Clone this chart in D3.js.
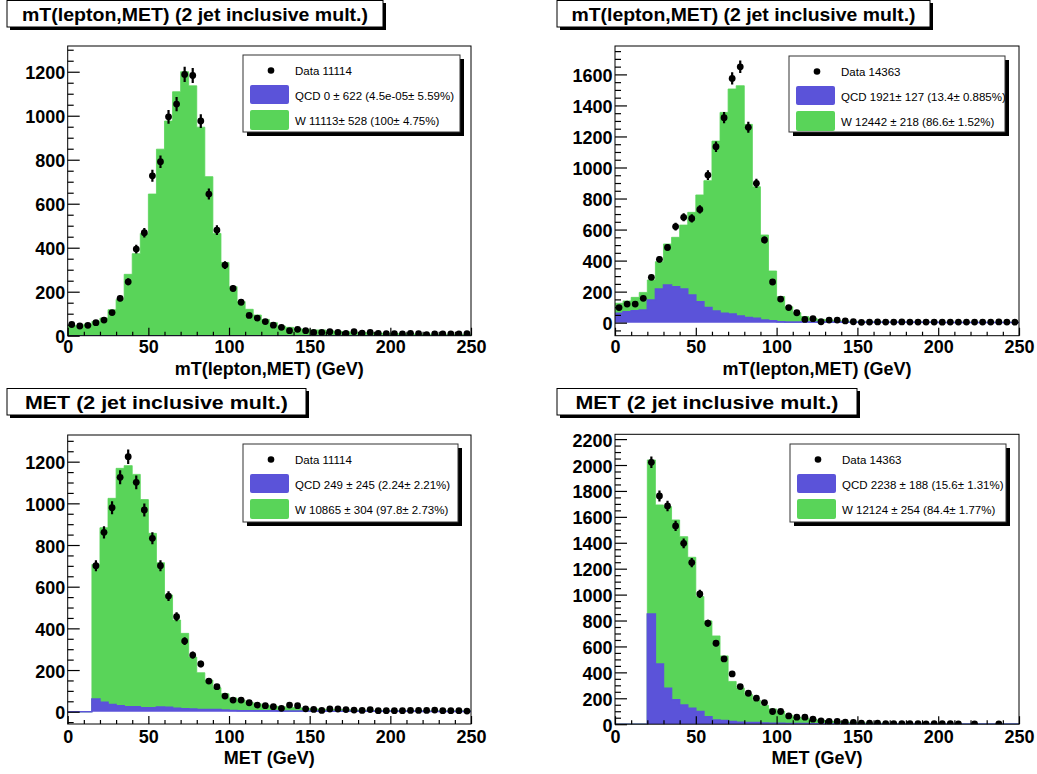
<!DOCTYPE html>
<html><head><meta charset="utf-8">
<script src="https://cdn.jsdelivr.net/npm/d3@7"></script>
<style>
body{margin:0;background:#fff}
svg{display:block}
text{font-family:"Liberation Sans",Arial,Helvetica,sans-serif}
</style>
</head><body>
<svg id="c" width="1037" height="774"></svg>
<script>
// ---------------- DATA ----------------
const binLow = [0,5,10,15,20,25,30,35,40,45,50,55,60,65,70,75,80,85,90,95,
  100,105,110,115,120,125,130,135,140,145,150,155,160,165,170,175,180,185,190,195,
  200,205,210,215,220,225,230,235,240,245];
const binWidth = 5;
const xTickValues = [0,50,100,150,200,250];

// mT(lepton,MET), sample 1 (top-left)
const mt1Data = [51,44,47,59,71,105,170,245,394,468,727,791,995,1053,1188,1183,976,644,480,321,
  215,152,92,80,64,48,38,23,29,23,15,15,18,15,11,18,12,15,11,9,9,8,11,9,5,8,8,8,8,9];
const mt1QCD = [0,0,0,0,0,0,0,0,0,0,0,0,0,0,0,0,0,0,0,0,0,0,0,0,0,0,0,0,0,0,
  0,0,0,0,0,0,0,0,0,0,0,0,0,0,0,0,0,0,0,0];
const mt1W = [46,46,53,65,80,118,165,279,373,465,644,848,976,1109,1200,1136,948,723,465,333,
  223,155,120,94,74,59,44,38,32,29,26,26,22,20,18,16,15,13,12,11,10,9,8,8,7,7,6,6,6,5];

// mT(lepton,MET), sample 2 (top-right)
const mt2Data = [97,120,120,157,292,408,485,619,679,672,730,951,1134,1321,1574,1649,1259,898,533,262,
  152,97,64,21,26,6,17,17,11,6,2,4,5,4,4,5,4,4,4,4,3,4,4,4,4,4,4,5,4,3];
const mt2QCD = [60,71,77,82,146,217,243,232,217,178,135,97,75,60,56,43,34,28,17,13,
  6,4,4,6,5,5,5,4,3,3,2,2,2,2,2,2,2,2,2,2,1,1,1,1,1,1,1,1,1,1];
const mt2W = [65,69,86,113,129,176,264,318,412,533,688,818,1095,1295,1450,1484,1244,848,548,320,
  162,99,60,33,23,16,12,9,8,6,5,4,4,3,3,3,2,2,2,2,2,2,2,2,2,2,2,2,2,2];

// MET, sample 1 (bottom-left)
const met1Data = [null,null,null,701,861,979,1125,1224,1101,968,832,701,555,456,339,272,229,147,120,75,
  56,56,43,32,29,24,16,32,29,14,11,6,13,13,10,8,6,10,5,5,5,5,6,6,6,8,5,5,5,3];
const met1QCD = [0,0,0,61,45,35,29,24,24,19,19,22,21,16,14,13,11,11,10,8,
  6,5,5,4,4,4,3,3,3,3,3,3,2,2,2,2,2,2,2,2,2,2,2,2,1,1,1,1,1,1];
const met1W = [0,0,0,646,838,989,1139,1157,1115,999,837,693,539,424,362,249,176,141,105,78,
  60,51,40,34,28,23,21,18,16,13,11,9,9,8,7,6,5,5,4,4,3,3,3,3,3,3,3,3,3,3];

// MET, sample 2 (bottom-right)
const met2Data = [null,null,null,null,2021,1761,1684,1530,1396,1247,1005,779,625,504,388,290,239,201,167,98,
  98,64,54,54,39,26,21,21,15,13,8,8,8,5,5,5,5,5,3,5,5,5,3,null,3,null,null,3,null,null];
const met2QCD = [0,0,0,0,851,465,278,188,149,123,98,57,33,28,21,15,13,13,10,8,
  7,6,5,5,4,4,3,3,3,3,2,2,2,2,2,2,2,1,1,1,1,1,1,1,1,1,1,1,1,1];
const met2W = [0,0,0,0,1188,1227,1401,1388,1298,1165,887,740,648,499,309,265,217,172,135,110,
  93,64,50,40,34,26,21,17,13,10,9,7,6,5,4,3,3,3,3,3,2,2,2,2,2,2,2,2,2,2];

const titleLabels = ["mT(lepton,MET) (2 jet inclusive mult.)", "MET (2 jet inclusive mult.)"];
const xAxisLabels = ["mT(lepton,MET) (GeV)", "MET (GeV)"];
const legend1 = ["Data 11114", "QCD 0 \u00b1 622 (4.5e-05\u00b1 5.59%)", "W 11113\u00b1 528 (100\u00b1 4.75%)"];
const legend2 = ["Data 14363", "QCD 1921\u00b1 127 (13.4\u00b1 0.885%)", "W 12442 \u00b1 218 (86.6\u00b1 1.52%)"];
const legend3 = ["Data 11114", "QCD 249 \u00b1 245 (2.24\u00b1 2.21%)", "W 10865 \u00b1 304 (97.8\u00b1 2.73%)"];
const legend4 = ["Data 14363", "QCD 2238 \u00b1 188 (15.6\u00b1 1.31%)", "W 12124 \u00b1 254 (84.4\u00b1 1.77%)"];

// ---------------- LAYOUT ----------------
const COL_W = "#59d459", COL_Q = "#5b53d9";
const panels = [
  {data:mt1Data, qcd:mt1QCD, w:mt1W, title:titleLabels[0], xlab:xAxisLabels[0], legend:legend1,
   fx0:67.7, fx1:471, fy0:46, fy1:335.7, ymin:0, ymax:1317,
   tb:[7,0,383,27], tw:346, lg:[243,55,460,132], xlabY:353, xtitY:375},
  {data:mt2Data, qcd:mt2QCD, w:mt2W, title:titleLabels[0], xlab:xAxisLabels[0], legend:legend2,
   fx0:615, fx1:1019, fy0:46, fy1:335.7, ymin:-84, ymax:1783,
   tb:[557,0,930,27], tw:344, lg:[789,56,1005,132], xlabY:353, xtitY:375},
  {data:met1Data, qcd:met1QCD, w:met1W, title:titleLabels[1], xlab:xAxisLabels[1], legend:legend3,
   fx0:67.7, fx1:471, fy0:435, fy1:724, ymin:-59, ymax:1328,
   tb:[7,388,306,415], tw:263, lg:[243,444,458,522], xlabY:743, xtitY:764},
  {data:met2Data, qcd:met2QCD, w:met2W, title:titleLabels[1], xlab:xAxisLabels[1], legend:legend4,
   fx0:615, fx1:1019, fy0:434.3, fy1:724.2, ymin:0, ymax:2237,
   tb:[557,388,857,415], tw:263, lg:[790,444,1006,522], xlabY:743, xtitY:764}
];

const svg = d3.select("#c");

panels.forEach((p, pi) => {
  const g = svg.append("g");
  const x = d3.scaleLinear().domain([0,250]).range([p.fx0, p.fx1]);
  const y = d3.scaleLinear().domain([p.ymin, p.ymax]).range([p.fy1, p.fy0]);

  const clipId = "clip" + pi;
  svg.append("clipPath").attr("id", clipId).append("rect")
    .attr("x", p.fx0).attr("y", p.fy0).attr("width", p.fx1 - p.fx0).attr("height", p.fy1 - p.fy0);

  g.append("rect").attr("x", p.fx0).attr("y", p.fy0).attr("width", p.fx1 - p.fx0)
    .attr("height", p.fy1 - p.fy0).attr("fill", "#fff");

  const plot = g.append("g").attr("clip-path", `url(#${clipId})`);

  // stacked histograms
  const rows = binLow.map((b, i) => ({x: b, qcd: p.qcd[i], w: p.w[i]}));
  const stack = d3.stack().keys(["qcd", "w"])(rows);
  const toStep = s => {
    const pts = s.map((d, i) => ({x: binLow[i], lo: d[0], hi: d[1]}));
    const last = pts[pts.length - 1];
    pts.push({x: last.x + binWidth, lo: last.lo, hi: last.hi});
    return pts;
  };
  const area = d3.area().x(d => x(d.x)).y0(d => y(d.lo)).y1(d => y(d.hi)).curve(d3.curveStepAfter);
  const wPts = toStep(stack[1]);
  const qPts = toStep(stack[0]);
  plot.append("path").attr("d", area(wPts)).attr("fill", COL_W).attr("stroke", COL_W).attr("stroke-width", 0.8);
  plot.append("path").attr("d", area(qPts)).attr("fill", COL_Q);
  const line = d3.line().x(d => x(d.x)).y(d => y(d.hi)).curve(d3.curveStepAfter);
  plot.append("path").attr("d", line(qPts)).attr("fill", "none").attr("stroke", COL_Q).attr("stroke-width", 1.5);

  // data points
  const pts = binLow.map((b, i) => ({c: b + binWidth / 2, v: p.data[i]})).filter(d => d.v !== null);
  plot.selectAll(".err").data(pts).join("line")
    .attr("x1", d => x(d.c)).attr("x2", d => x(d.c))
    .attr("y1", d => y(d.v - Math.sqrt(d.v))).attr("y2", d => y(d.v + Math.sqrt(d.v)))
    .attr("stroke", "#000").attr("stroke-width", 2.2);
  plot.selectAll(".pt").data(pts).join("circle")
    .attr("cx", d => x(d.c)).attr("cy", d => y(d.v)).attr("r", 3.4).attr("fill", "#000");

  // frame
  g.append("rect").attr("x", p.fx0).attr("y", p.fy0).attr("width", p.fx1 - p.fx0)
    .attr("height", p.fy1 - p.fy0).attr("fill", "none").attr("stroke", "#000").attr("stroke-width", 1);

  // y axis
  const yMajor = d3.range(Math.ceil(p.ymin / 200) * 200, p.ymax + 1, 200);
  const yMinor = d3.range(Math.ceil(p.ymin / 50) * 50, p.ymax + 1, 50).filter(v => v % 200 !== 0);
  const yAx = g.append("g").attr("transform", `translate(${p.fx0},0)`)
    .call(d3.axisLeft(y).tickValues(yMajor).tickSize(-12).tickPadding(2.5).tickFormat(d3.format("d")));
  yAx.select(".domain").remove();
  yAx.selectAll("line").attr("stroke", "#000").attr("stroke-width", 1.2);
  yAx.selectAll("text").attr("dy", null).attr("y", 7)
    .attr("font-size", 18).attr("font-weight", "bold").attr("fill", "#000")
    .style("font-family", '"Liberation Sans",Arial,sans-serif');
  const yMin = g.append("g").attr("transform", `translate(${p.fx0},0)`)
    .call(d3.axisLeft(y).tickValues(yMinor).tickSize(-6).tickFormat(""));
  yMin.select(".domain").remove();
  yMin.selectAll("line").attr("stroke", "#000").attr("stroke-width", 1.2);

  // x axis
  const xMinor = d3.range(0, 251, 10).filter(v => v % 50 !== 0);
  const xAx = g.append("g").attr("transform", `translate(0,${p.fy1})`)
    .call(d3.axisBottom(x).tickValues(xTickValues).tickSize(-8).tickFormat(d3.format("d")));
  xAx.select(".domain").remove();
  xAx.selectAll("line").attr("stroke", "#000").attr("stroke-width", 1.2);
  xAx.selectAll("text").attr("dy", null).attr("y", p.xlabY - p.fy1)
    .attr("font-size", 18).attr("font-weight", "bold").attr("fill", "#000")
    .style("font-family", '"Liberation Sans",Arial,sans-serif');
  const xMin = g.append("g").attr("transform", `translate(0,${p.fy1})`)
    .call(d3.axisBottom(x).tickValues(xMinor).tickSize(-4).tickFormat(""));
  xMin.select(".domain").remove();
  xMin.selectAll("line").attr("stroke", "#000").attr("stroke-width", 1.2);

  // x axis title
  g.append("text").attr("x", (p.fx0 + p.fx1) / 2).attr("y", p.xtitY)
    .attr("text-anchor", "middle").attr("font-size", 18).attr("font-weight", "bold").text(p.xlab);

  // title box
  const [tx0, ty0, tx1, ty1] = p.tb;
  g.append("rect").attr("x", tx0 + 3).attr("y", ty0 + 3).attr("width", tx1 - tx0).attr("height", ty1 - ty0).attr("fill", "#000");
  g.append("rect").attr("x", tx0).attr("y", ty0 + 0.5).attr("width", tx1 - tx0).attr("height", ty1 - ty0 - 0.5)
    .attr("fill", "#fff").attr("stroke", "#000").attr("stroke-width", 1);
  g.append("text").attr("x", (tx0 + tx1) / 2).attr("y", ty0 + 21).attr("text-anchor", "middle")
    .attr("font-size", 18.5).attr("font-weight", "bold")
    .attr("textLength", p.tw).attr("lengthAdjust", "spacingAndGlyphs").text(p.title);

  // legend
  const [lx0, ly0, lx1, ly1] = p.lg;
  g.append("rect").attr("x", lx0 + 4).attr("y", ly0 + 4).attr("width", lx1 - lx0).attr("height", ly1 - ly0).attr("fill", "#000");
  g.append("rect").attr("x", lx0).attr("y", ly0).attr("width", lx1 - lx0).attr("height", ly1 - ly0)
    .attr("fill", "#fff").attr("stroke", "#333").attr("stroke-width", 1);
  g.append("circle").attr("cx", lx0 + 28).attr("cy", ly0 + 15.5).attr("r", 3.3).attr("fill", "#000");
  g.append("rect").attr("x", lx0 + 7).attr("y", ly0 + 30).attr("width", 39).attr("height", 19).attr("rx", 2).attr("fill", COL_Q);
  g.append("rect").attr("x", lx0 + 7).attr("y", ly0 + 55).attr("width", 39).attr("height", 20).attr("rx", 2).attr("fill", COL_W);
  p.legend.forEach((t, i) => {
    g.append("text").attr("x", lx0 + 52).attr("y", ly0 + 19.5 + i * 25)
      .attr("font-size", 11.5).attr("fill", "#000").text(t);
  });
});
</script>
</body></html>
